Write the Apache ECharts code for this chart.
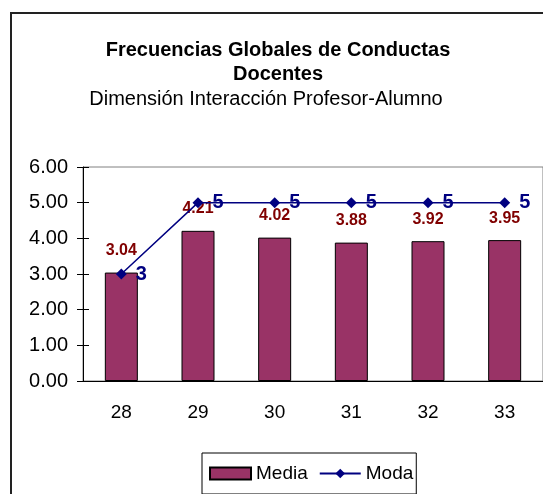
<!DOCTYPE html>
<html>
<head>
<meta charset="utf-8">
<script src="https://cdn.jsdelivr.net/npm/echarts@6/dist/echarts.min.js"></script>
<style>
  html, body { margin: 0; padding: 0; background: #fff; }
  #container { width: 543px; height: 494px; }
</style>
</head>
<body>
<div id="container"></div>
<script>
// chart data
const categories = ['28', '29', '30', '31', '32', '33'];
const media = [3.04, 4.21, 4.02, 3.88, 3.92, 3.95];
const moda = [3, 5, 5, 5, 5, 5];
const yTicks = [0, 1, 2, 3, 4, 5, 6];

const font = '"Liberation Sans", Arial, sans-serif';

let dom = document.getElementById('container');
let myChart = echarts.init(dom);

// excel draws "cross" tick marks, so each axis gets an inside twin
const yBase = {
    type: 'value',
    min: yTicks[0],
    max: yTicks[yTicks.length - 1],
    interval: 1,
    position: 'left',
    splitLine: { show: false }
};

const option = {
    animation: false,
    textStyle: { fontFamily: font },
    graphic: [{
        type: 'rect',
        shape: { x: 11, y: 13, width: 600, height: 600 },
        style: { fill: 'none', stroke: '#222', lineWidth: 2 },
        silent: true
    }],
    title: [
        {
            text: 'Frecuencias Globales de Conductas\nDocentes',
            left: 273,
            textAlign: 'center',
            top: 33,
            textStyle: { fontFamily: font, fontSize: 20, fontWeight: 'bold', color: '#000', lineHeight: 24 }
        },
        {
            text: 'Dimensión Interacción Profesor-Alumno',
            left: 261,
            textAlign: 'center',
            top: 82,
            textStyle: { fontFamily: font, fontSize: 20, fontWeight: 'normal', color: '#000', lineHeight: 24 }
        }
    ],
    legend: {
        left: 202,
        top: 453,
        padding: [11, 3, 11, 7],
        itemGap: 11,
        itemWidth: 41,
        itemHeight: 12,
        borderColor: '#000',
        borderWidth: 1,
        textStyle: { fontFamily: font, fontSize: 19, color: '#000' },
        data: [{ name: 'Media', icon: 'rect' }, { name: 'Moda' }]
    },
    grid: {
        left: 83,
        right: -1,
        top: 167,
        bottom: 113,
        show: true,
        borderColor: '#808080',
        borderWidth: 1
    },
    xAxis: [
        {
            type: 'category',
            data: categories,
            position: 'bottom',
            axisLine: { lineStyle: { color: '#000', width: 1 } },
            axisTick: { length: 7, lineStyle: { color: '#000' } },
            axisLabel: { fontFamily: font, fontSize: 19, color: '#000', margin: 22 }
        },
        {
            type: 'category',
            data: categories,
            position: 'bottom',
            axisLine: { show: false },
            axisTick: { inside: true, length: 7, lineStyle: { color: '#000' } },
            axisLabel: { show: false }
        }
    ],
    yAxis: [
        Object.assign({}, yBase, {
            axisLine: { show: true, lineStyle: { color: '#000', width: 1 } },
            axisTick: { show: true, length: 6, lineStyle: { color: '#000' } },
            axisLabel: {
                fontFamily: font, fontSize: 20, color: '#000', margin: 15,
                formatter: (v) => v.toFixed(2)
            }
        }),
        Object.assign({}, yBase, {
            axisLine: { show: false },
            axisTick: { show: true, inside: true, length: 6, lineStyle: { color: '#000' } },
            axisLabel: { show: false }
        })
    ],
    series: [
        {
            name: 'Media',
            type: 'bar',
            data: media,
            barWidth: 33,
            itemStyle: { color: '#993366', borderColor: '#000', borderWidth: 1 },
            label: {
                show: true,
                position: 'top',
                distance: 14,
                fontFamily: font,
                fontSize: 16,
                fontWeight: 'bold',
                color: '#800000',
                formatter: (p) => p.value.toFixed(2)
            }
        },
        {
            name: 'Moda',
            type: 'line',
            data: moda,
            symbol: 'diamond',
            symbolSize: 11,
            lineStyle: { color: '#000080', width: 1.5 },
            itemStyle: { color: '#000080' },
            label: {
                show: true,
                position: 'right',
                distance: 9,
                fontFamily: font,
                fontSize: 20,
                fontWeight: 'bold',
                color: '#000080'
            },
            z: 3
        }
    ]
};

myChart.setOption(option);
</script>
</body>
</html>
